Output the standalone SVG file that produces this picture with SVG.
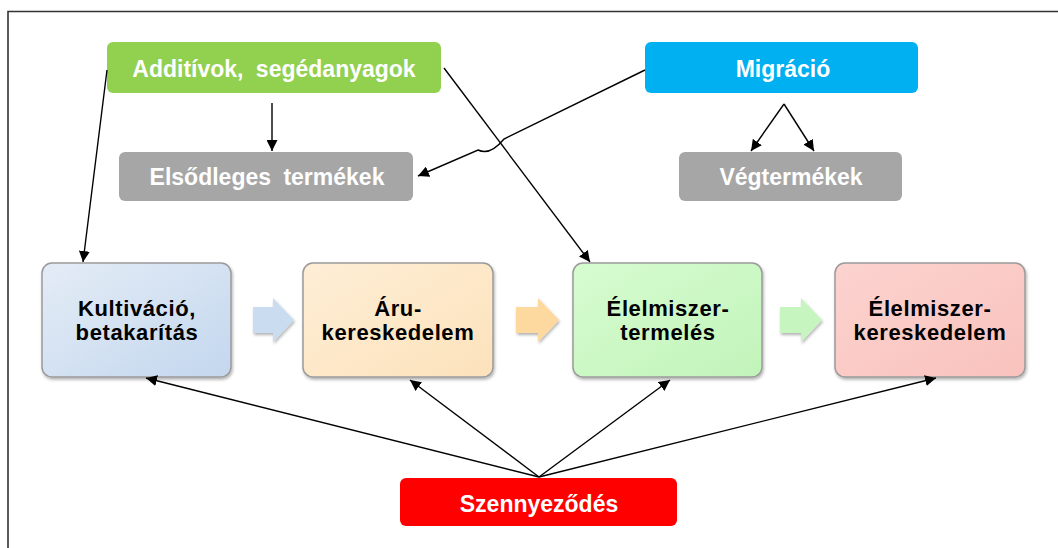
<svg xmlns="http://www.w3.org/2000/svg" width="1058" height="548" viewBox="0 0 1058 548">
<defs>
<style>
.t{font-family:"Liberation Sans",Arial,sans-serif;font-weight:bold;font-size:23px;text-anchor:middle}
.p{font-size:22px;letter-spacing:0.6px}
.w{fill:#ffffff}
.k{fill:#000000}
.ln{stroke:#000;stroke-width:1.4;fill:none}
.pb{stroke:#9a9a9a;stroke-width:1.5}
</style>
<marker id="ah" viewBox="0 0 10 10" refX="10" refY="5" markerWidth="11" markerHeight="11" markerUnits="userSpaceOnUse" orient="auto">
<path d="M0,0 L10,5 L0,10 z" fill="#000"/>
</marker>
<linearGradient id="gBlue" x1="0" y1="0" x2="1" y2="1"><stop offset="0" stop-color="#E4ECF6"/><stop offset="1" stop-color="#C3D7EE"/></linearGradient>
<linearGradient id="gOr" x1="0" y1="0" x2="1" y2="1"><stop offset="0" stop-color="#FEEED6"/><stop offset="1" stop-color="#FCE2BB"/></linearGradient>
<linearGradient id="gGr" x1="0" y1="0" x2="1" y2="1"><stop offset="0" stop-color="#D6FCD0"/><stop offset="1" stop-color="#C2F4BA"/></linearGradient>
<linearGradient id="gRd" x1="0" y1="0" x2="1" y2="1"><stop offset="0" stop-color="#FCD3CF"/><stop offset="1" stop-color="#F9C2BD"/></linearGradient>
<filter id="sh" x="-10%" y="-10%" width="125%" height="130%">
<feDropShadow dx="1" dy="2" stdDeviation="1.8" flood-color="#000" flood-opacity="0.3"/>
</filter>
</defs>
<rect width="1058" height="548" fill="#fff"/>
<path d="M8,548 V11.5 H1058" fill="none" stroke="#333" stroke-width="1.6"/>

<g id="additivok">
<rect x="107" y="42" width="334" height="51" rx="6" fill="#92D050"/>
<text class="t w" x="274" y="77" word-spacing="6">Additívok, segédanyagok</text>
</g>
<g id="elsodleges">
<rect x="119" y="152" width="294" height="49" rx="6" fill="#A6A6A6"/>
<text class="t w" x="267" y="185" word-spacing="6">Elsődleges termékek</text>
</g>
<g id="migracio">
<rect x="645" y="42" width="273" height="51" rx="6" fill="#00B0F0"/>
<text class="t w" x="783" y="77">Migráció</text>
</g>
<g id="vegtermekek">
<rect x="679" y="152" width="223" height="49" rx="6" fill="#A6A6A6"/>
<text class="t w" x="791" y="185">Végtermékek</text>
</g>

<g id="kultivacio">
<rect x="42" y="263" width="189" height="114" rx="10" fill="url(#gBlue)" class="pb" filter="url(#sh)"/>
<text class="t p k" x="137" y="316">Kultiváció,</text>
<text class="t p k" x="137" y="340">betakarítás</text>
</g>
<g id="aru">
<rect x="303" y="263" width="190" height="114" rx="10" fill="url(#gOr)" class="pb" filter="url(#sh)"/>
<text class="t p k" x="398" y="316">Áru-</text>
<text class="t p k" x="398" y="340">kereskedelem</text>
</g>
<g id="elelmiszer-termeles">
<rect x="573" y="263" width="189" height="114" rx="10" fill="url(#gGr)" class="pb" filter="url(#sh)"/>
<text class="t p k" x="668" y="316">Élelmiszer-</text>
<text class="t p k" x="668" y="340">termelés</text>
</g>
<g id="elelmiszer-kereskedelem">
<rect x="835" y="263" width="190" height="114" rx="10" fill="url(#gRd)" class="pb" filter="url(#sh)"/>
<text class="t p k" x="930" y="316">Élelmiszer-</text>
<text class="t p k" x="930" y="340">kereskedelem</text>
</g>
<g id="szennyezodes">
<rect x="400" y="478" width="277" height="48" rx="6" fill="#FF0000"/>
<text class="t w" x="539" y="512">Szennyeződés</text>
</g>

<g id="flow-arrows" filter="url(#sh)">
<path d="M253,307 H273 V298 L294,320 L273,342 V333 H253 Z" fill="#C9DCF0"/>
<path d="M516,307 H538 V298 L559,320 L538,342 V333 H516 Z" fill="#FDD9A0"/>
<path d="M780,307 H801 V298 L822,320 L801,342 V333 H780 Z" fill="#C7F5C0"/>
</g>

<g id="connectors" class="ln">
<line x1="272" y1="103" x2="272" y2="151" marker-end="url(#ah)"/>
<line x1="784" y1="104" x2="751" y2="151" marker-end="url(#ah)"/>
<line x1="784" y1="104" x2="814" y2="151" marker-end="url(#ah)"/>
<line x1="107" y1="70" x2="83" y2="262" marker-end="url(#ah)"/>
<line x1="444" y1="68" x2="590" y2="262" marker-end="url(#ah)"/>
<path d="M645,70 L504,139 Q490,156 478,150 L418,176" marker-end="url(#ah)"/>
<line x1="539" y1="477" x2="146" y2="378" marker-end="url(#ah)"/>
<line x1="539" y1="477" x2="410" y2="380" marker-end="url(#ah)"/>
<line x1="539" y1="477" x2="670" y2="380" marker-end="url(#ah)"/>
<line x1="539" y1="477" x2="936" y2="378" marker-end="url(#ah)"/>
</g>
</svg>
